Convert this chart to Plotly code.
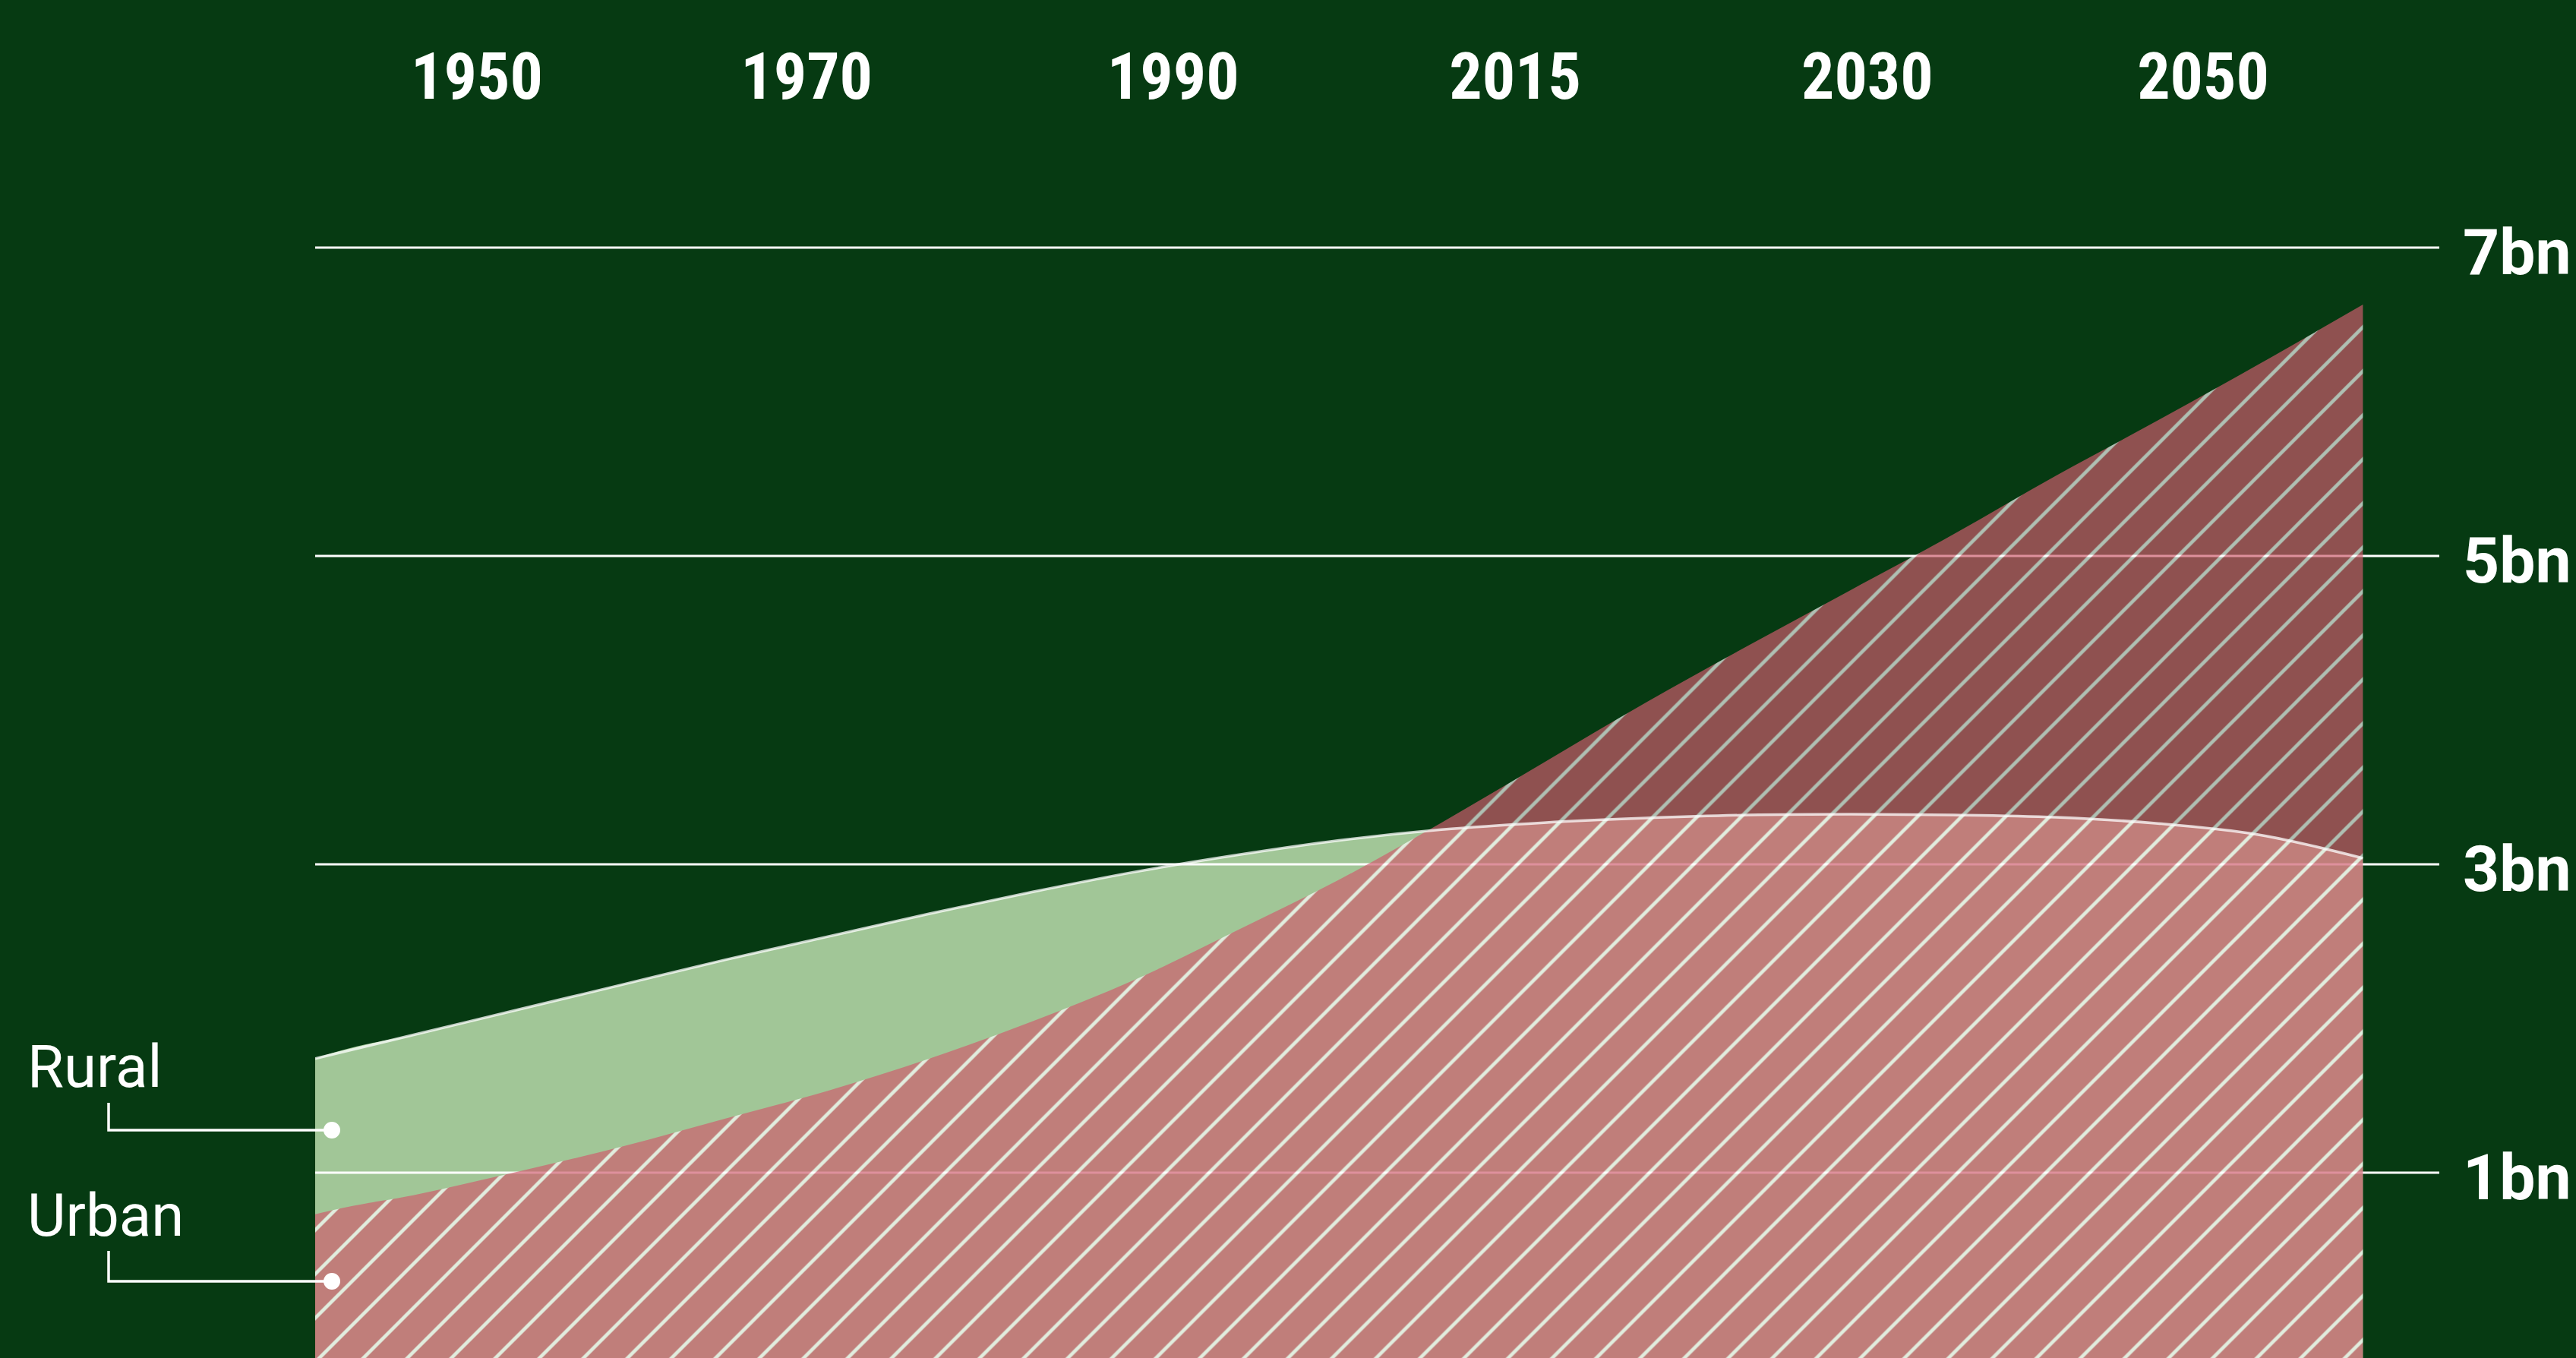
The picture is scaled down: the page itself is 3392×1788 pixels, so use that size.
import plotly.graph_objects as go

# ---------------- data (billions of people) ----------------
YEARS = [1950, 1955, 1960, 1965, 1970, 1975, 1980, 1985, 1990, 1995, 2000,
         2005, 2010, 2015, 2020, 2025, 2030, 2035, 2040, 2045, 2050]
RURAL = [1.74, 1.90, 2.06, 2.22, 2.38, 2.53, 2.68, 2.82, 2.95, 3.06, 3.155,
         3.225, 3.27, 3.30, 3.32, 3.325, 3.32, 3.305, 3.265, 3.19, 3.04]
URBAN = [0.73, 0.86, 1.01, 1.17, 1.35, 1.53, 1.74, 1.98, 2.25, 2.57, 2.90,
         3.27, 3.66, 4.05, 4.42, 4.78, 5.14, 5.52, 5.88, 6.25, 6.63]
SERIES_NAMES = ["Rural", "Urban"]

YEAR_LABELS = ["1950", "1970", "1990", "2015", "2030", "2050"]
Y_TICKS = [1, 3, 5, 7]
Y_TICK_LABELS = ["1bn", "3bn", "5bn", "7bn"]

# ---------------- layout constants ----------------
W, H = 3392, 1788
M_L, M_R, M_T, M_B = 415, 180, 170, 0
PX_PER_YEAR = 26.964
PX_PER_BN = 203.0
ZERO_PX = 1747
PLOT_W = W - M_L - M_R
PLOT_H = H - M_T - M_B
X_RANGE = [1950, 1950 + PLOT_W / PX_PER_YEAR]
Y_RANGE = [-(H - M_B - ZERO_PX) / PX_PER_BN, (ZERO_PX - M_T) / PX_PER_BN]
# lower corners of the area polygons, placed outside the visible plot area
Y_FLOOR = Y_RANGE[0] - 1.0
X_FAR_LEFT = X_RANGE[0] - 50
# horizontal anchor of each year label (axis units)
YEAR_LABEL_POS = [1957.9, 1974.0, 1991.9, 2008.6, 2025.8, 2042.2]

BG = "#063A12"
GREEN = "#A1C697"
RED = "#CF5C6D"
WHITE = "#FFFFFF"
URBAN_OPACITY = 0.68


def px2x(px):
    return (px - M_L) / PLOT_W


def py2y(py):
    return (H - M_B - py) / PLOT_H


def area_xy(values):
    # closed outline: two hidden floor corners, then the series; the closing
    # segment (straight) forms the right-hand vertical edge at the last year
    return [YEARS[-1], X_FAR_LEFT] + YEARS, [Y_FLOOR, Y_FLOOR] + values


fig = go.Figure()

# rural area (opaque light green)
rx, ry = area_xy(RURAL)
fig.add_trace(go.Scatter(
    x=rx, y=ry, fill="toself", fillcolor=GREEN, mode="lines",
    line=dict(shape="spline", smoothing=1, width=0, color=GREEN),
    hoverinfo="skip", name=SERIES_NAMES[0]))

# gridlines (above the rural area, below the urban area)
for v in Y_TICKS:
    fig.add_trace(go.Scatter(
        x=X_RANGE, y=[v, v], mode="lines",
        line=dict(color=WHITE, width=3), hoverinfo="skip"))

# urban area (hatched, translucent)
ux, uy = area_xy(URBAN)
fig.add_trace(go.Scatter(
    x=ux, y=uy, fill="toself", fillcolor=RED, mode="lines",
    line=dict(shape="spline", smoothing=1, width=0, color=RED),
    fillpattern=dict(shape="/", bgcolor=RED, fgcolor=WHITE, fgopacity=1,
                     size=41, solidity=0.11),
    opacity=URBAN_OPACITY, hoverinfo="skip", name=SERIES_NAMES[1]))

# rural outline on top
fig.add_trace(go.Scatter(
    x=YEARS, y=RURAL, mode="lines",
    line=dict(color="rgba(255,255,255,0.75)", width=3.5, shape="spline", smoothing=1),
    hoverinfo="skip"))

# ---------------- legend-like labels with connectors ----------------
LABEL_FONT = dict(family="Roboto, Liberation Sans, sans-serif", size=78, color=WHITE)
label_rows = [  # (text, cap-centre y px, connector top px, connector y px)
    (SERIES_NAMES[0], 1404, 1452, 1488),
    (SERIES_NAMES[1], 1600, 1647, 1687),
]
shapes = []
annotations = []
for text, ty, top, cy in label_rows:
    annotations.append(dict(
        text=text, xref="paper", yref="paper", x=px2x(34), y=py2y(ty),
        xanchor="left", yanchor="middle", showarrow=False, font=LABEL_FONT))
    shapes.append(dict(
        type="path", xref="paper", yref="paper", layer="above",
        path=f"M {px2x(143)},{py2y(top)} L {px2x(143)},{py2y(cy)} L {px2x(437)},{py2y(cy)}",
        line=dict(color=WHITE, width=3.5)))
    r = 11
    shapes.append(dict(
        type="circle", xref="paper", yref="paper", layer="above",
        x0=px2x(437 - r), x1=px2x(437 + r), y0=py2y(cy + r), y1=py2y(cy - r),
        fillcolor=WHITE, line=dict(width=0)))

fig.update_layout(
    width=W, height=H,
    margin=dict(l=M_L, r=M_R, t=M_T, b=M_B, pad=0),
    paper_bgcolor=BG, plot_bgcolor=BG,
    showlegend=False, hovermode=False,
    shapes=shapes, annotations=annotations,
    xaxis=dict(
        range=X_RANGE, side="top", tickmode="array",
        tickvals=YEAR_LABEL_POS, ticktext=YEAR_LABELS,
        showgrid=False, zeroline=False, showline=False, ticks="",
        ticklabelstandoff=22,
        tickfont=dict(family="Liberation Sans Narrow, Roboto Condensed, Roboto, sans-serif",
                      size=86, color=WHITE, weight="bold"),
        fixedrange=True),
    yaxis=dict(
        range=Y_RANGE, side="right", tickmode="array",
        tickvals=Y_TICKS, ticktext=Y_TICK_LABELS,
        showgrid=False, zeroline=False, showline=False, ticks="",
        ticklabelstandoff=30, ticklabelshift=6,
        tickfont=dict(family="Roboto, Liberation Sans, sans-serif",
                      size=84, color=WHITE, weight="bold"),
        fixedrange=True),
)

fig.write_html(
    "out.html",
    config={"displayModeBar": False, "responsive": False},
    post_script="document.body.style.margin='0';document.body.style.overflow='hidden';",
)
